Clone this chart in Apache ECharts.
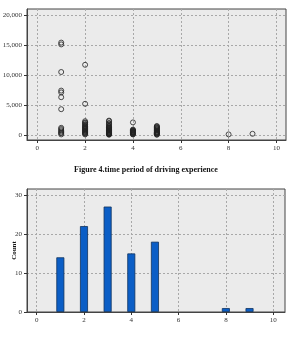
<!DOCTYPE html>
<html lang="en">
<head>
    <meta charset="UTF-8">
    <title>Driving experience</title>
    <script src="https://cdn.jsdelivr.net/npm/echarts@6/dist/echarts.min.js"></script>
    <style>
        html, body { margin: 0; padding: 0; background: #fff; }
        #main { width: 292px; height: 343px; }
    </style>
</head>
<body>
<div id="main"></div>
<script>
    // years of driving experience and number of drivers in each group
    var years = [1, 2, 3, 4, 5, 8, 9];
    var counts = [14, 22, 27, 15, 18, 1, 1];

    // values plotted in the upper scatter, one list per year group
    var year1 = [15400, 15100, 10500, 7400, 7100, 6300, 4300, 1200, 1000, 800, 600, 400, 300, 100];
    var year2 = [11700, 5200, 2300, 2100, 2000, 1800, 1700, 1500, 1400, 1300, 1200, 1100, 1000, 900, 800, 700, 600, 500, 400, 300, 200, 100];
    var year3 = [2400, 2300, 2000, 1900, 1700, 1500, 1400, 1300, 1200, 1100, 1000, 950, 900, 800, 750, 700, 600, 550, 500, 400, 350, 300, 250, 200, 150, 100, 50];
    var year4 = [2100, 900, 800, 750, 700, 600, 550, 500, 450, 400, 350, 300, 200, 150, 100];
    var year5 = [1500, 1400, 1300, 1200, 1100, 1000, 900, 800, 700, 600, 500, 450, 400, 300, 250, 200, 100, 50];
    var year8 = [100];
    var year9 = [200];
    var groups = [year1, year2, year3, year4, year5, year8, year9];

    // tick labels
    var xTicks = [0, 2, 4, 6, 8, 10];
    var yTicksTop = [0, 5000, 10000, 15000, 20000];
    var yTicksBottom = [0, 10, 20, 30];

    var scatterData = [];
    for (var g = 0; g < groups.length; g++) {
        for (var k = 0; k < groups[g].length; k++) {
            scatterData.push([years[g], groups[g][k]]);
        }
    }
    var barData = [];
    for (var b = 0; b < years.length; b++) {
        barData.push([years[b], counts[b]]);
    }

    var font = 'Liberation Serif';
    var split = { show: true, lineStyle: { color: '#a8a8a8', type: [2, 2], width: 1 } };
    var line = { show: true, onZero: false, lineStyle: { color: '#444', width: 1 } };

    function comma(v) {
        return String(v).replace(/\B(?=(\d{3})+(?!\d))/g, ',');
    }
    function lab(vals, fmt) {
        var o = { fontFamily: font, fontSize: 7, color: '#333', margin: 5, customValues: vals };
        if (fmt) o.formatter = fmt;
        return o;
    }
    function tick(vals) {
        return { show: true, length: 3, lineStyle: { color: '#333' }, customValues: vals };
    }

    var chart = echarts.init(document.getElementById('main'));
    chart.setOption({
        animation: false,
        title: {
            text: 'Figure 4.time period of driving experience',
            left: 'center',
            top: 161,
            textStyle: { fontFamily: font, fontSize: 8, fontWeight: 'bold', color: '#111' }
        },
        grid: [
            { left: 27, top: 9, width: 259, height: 131, show: true, backgroundColor: '#ebebeb',
              borderColor: '#444', borderWidth: 1, containLabel: false, outerBoundsMode: 'none' },
            { left: 27, top: 189, width: 258, height: 123, show: true, backgroundColor: '#ebebeb',
              borderColor: '#444', borderWidth: 1, containLabel: false, outerBoundsMode: 'none' }
        ],
        xAxis: [
            { type: 'value', gridIndex: 0, min: -0.43, max: 10.4,
              axisLine: line, axisTick: tick(xTicks), splitLine: split, axisLabel: lab(xTicks) },
            { type: 'value', gridIndex: 1, min: -0.41, max: 10.5,
              axisLine: line, axisTick: tick(xTicks), splitLine: split, axisLabel: lab(xTicks) }
        ],
        yAxis: [
            { type: 'value', gridIndex: 0, min: -833, max: 21000,
              axisLine: line, axisTick: tick(yTicksTop), splitLine: split, axisLabel: lab(yTicksTop, comma) },
            { type: 'value', gridIndex: 1, min: 0, max: 31.5,
              name: 'Count', nameLocation: 'middle', nameGap: 9, nameRotate: 90, nameMoveOverlap: false,
              nameTextStyle: { fontFamily: font, fontSize: 7, fontWeight: 'bold', color: '#111' },
              axisLine: line, axisTick: tick(yTicksBottom), splitLine: split, axisLabel: lab(yTicksBottom) }
        ],
        series: [
            { type: 'scatter', xAxisIndex: 0, yAxisIndex: 0, data: scatterData,
              symbol: 'circle', symbolSize: 5,
              itemStyle: { color: 'rgba(0,0,0,0)', borderColor: '#222', borderWidth: 1 } },
            { type: 'bar', xAxisIndex: 1, yAxisIndex: 1, data: barData, barWidth: 8,
              itemStyle: { color: '#0b5ec6', borderColor: '#12345e', borderWidth: 0.8 } }
        ]
    });
</script>
</body>
</html>
